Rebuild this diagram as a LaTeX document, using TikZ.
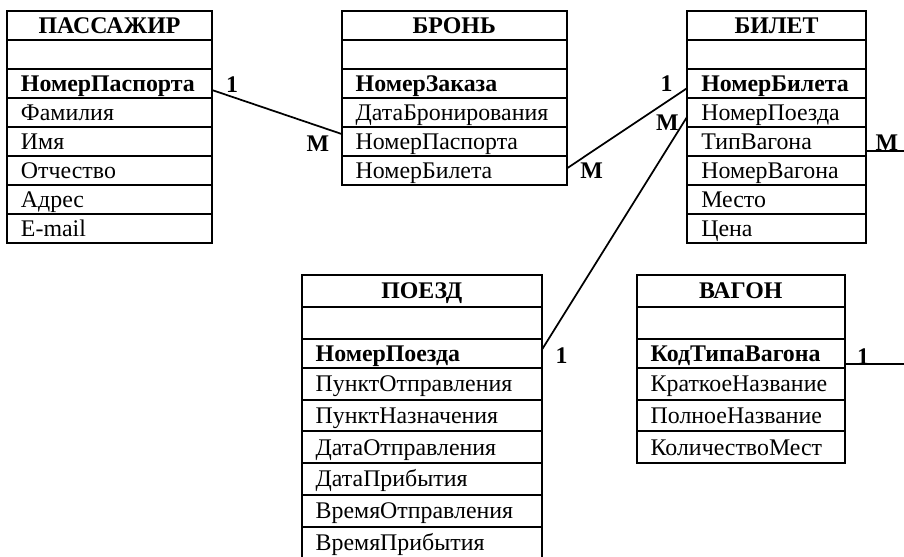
\documentclass[tikz,border=0pt]{standalone}
\usepackage{fontspec}
\setmainfont{Liberation Serif}
\usetikzlibrary{calc}
\begin{document}
\begin{tikzpicture}[x=0.75pt,y=-0.75pt,
  txt/.style={font=\fontsize{17.9}{20}\selectfont},
  cell/.style={draw, line width=1.5pt, rectangle, anchor=north west, outer sep=0pt,
    inner xsep=10.5pt, inner ysep=0pt, text height=13.3pt, text depth=1.6pt,
    minimum height=21.75pt, align=left, txt},
  hdr/.style={align=center, font=\fontsize{17.9}{20}\selectfont\bfseries},
  key/.style={font=\fontsize{17.9}{20}\selectfont\bfseries},
  tpa/.style={cell, minimum width=153.75pt, text width=132.75pt},
  tbr/.style={cell, minimum width=168.75pt, text width=147.75pt},
  tbi/.style={cell, minimum width=133.8pt, text width=112.8pt},
  tpo/.style={cell, minimum width=180pt, text width=159pt},
  tva/.style={cell, minimum width=156pt, text width=135pt},
  h32/.style={minimum height=24pt},
  h29/.style={minimum height=21.75pt},
  h31/.style={minimum height=23.8pt},
  conn/.style={line width=1.3pt},
  card/.style={txt, font=\fontsize{17.9}{20}\selectfont\bfseries, inner sep=0pt, anchor=center}
]
\useasboundingbox (0,0) rectangle (904,557);
\clip (0,0) rectangle (904,557);

% ПАССАЖИР
\node[tpa, hdr] (pa0) at (7,11) {ПАССАЖИР};
\node[tpa] (pa1) at (7,40) {};
\node[tpa, key] (pa2) at (7,69) {НомерПаспорта};
\node[tpa] (pa3) at (7,98) {Фамилия};
\node[tpa] (pa4) at (7,127) {Имя};
\node[tpa] (pa5) at (7,156) {Отчество};
\node[tpa] (pa6) at (7,185) {Адрес};
\node[tpa] (pa7) at (7,214) {E-mail};

% БРОНЬ
\node[tbr, hdr] (br0) at (341.7,11) {БРОНЬ};
\node[tbr] (br1) at (341.7,40) {};
\node[tbr, key] (br2) at (341.7,69) {НомерЗаказа};
\node[tbr] (br3) at (341.7,98) {ДатаБронирования};
\node[tbr] (br4) at (341.7,127) {НомерПаспорта};
\node[tbr] (br5) at (341.7,156) {НомерБилета};

% БИЛЕТ
\node[tbi, hdr] (bi0) at (687.3,11) {БИЛЕТ};
\node[tbi] (bi1) at (687.3,40) {};
\node[tbi, key] (bi2) at (687.3,69) {НомерБилета};
\node[tbi] (bi3) at (687.3,98) {НомерПоезда};
\node[tbi] (bi4) at (687.3,127) {ТипВагона};
\node[tbi] (bi5) at (687.3,156) {НомерВагона};
\node[tbi] (bi6) at (687.3,185) {Место};
\node[tbi] (bi7) at (687.3,214) {Цена};

% ПОЕЗД
\node[tpo, hdr, h32] (po0) at (301.7,275) {ПОЕЗД};
\node[tpo, h32] (po1) at (301.7,307) {};
\node[tpo, key, h29] (po2) at (301.7,339) {НомерПоезда};
\node[tpo, h31] (po3) at (301.7,368) {ПунктОтправления};
\node[tpo, h31] (po4) at (301.7,399.7) {ПунктНазначения};
\node[tpo, h31] (po5) at (301.7,431.4) {ДатаОтправления};
\node[tpo, h31] (po6) at (301.7,463.1) {ДатаПрибытия};
\node[tpo, h31] (po7) at (301.7,494.8) {ВремяОтправления};
\node[tpo, h31] (po8) at (301.7,526.5) {ВремяПрибытия};

% ВАГОН
\node[tva, hdr, h32] (va0) at (636.7,275) {ВАГОН};
\node[tva, h32] (va1) at (636.7,307) {};
\node[tva, key, h29] (va2) at (636.7,339) {КодТипаВагона};
\node[tva, h31] (va3) at (636.7,368) {КраткоеНазвание};
\node[tva, h31] (va4) at (636.7,399.7) {ПолноеНазвание};
\node[tva, h31] (va5) at (636.7,431.4) {КоличествоМест};

% free ends
\coordinate (e1) at (904,151);
\coordinate (e2) at (904,364);

% connectors
\draw[conn] ($(pa2.south east)+(0,-8)$) -- ($(br4.north west)+(0,7)$);
\draw[conn] ($(br5.east)+(0,-2)$) -- ($(bi2.south west)+(0,-10)$);
\draw[conn] ($(po2.north east)+(0,11)$) -- ($(bi3.west)+(0,4)$);
\draw[conn] ($(bi4.south east)+(0,-5)$) -- (e1);
\draw[conn] ($(va2.south east)+(0,-4)$) -- (e2);

% cardinalities
\node[card] (c1) at (232,85) {1};
\node[card] (c2) at (318,144) {М};
\node[card] (c3) at (591.7,171) {М};
\node[card] (c4) at (666.7,84) {1};
\node[card] (c5) at (667.5,123) {М};
\node[card] (c6) at (887,142.5) {М};
\node[card] (c7) at (561.7,355.7) {1};
\node[card] (c8) at (863,356.3) {1};
\end{tikzpicture}
\end{document}
